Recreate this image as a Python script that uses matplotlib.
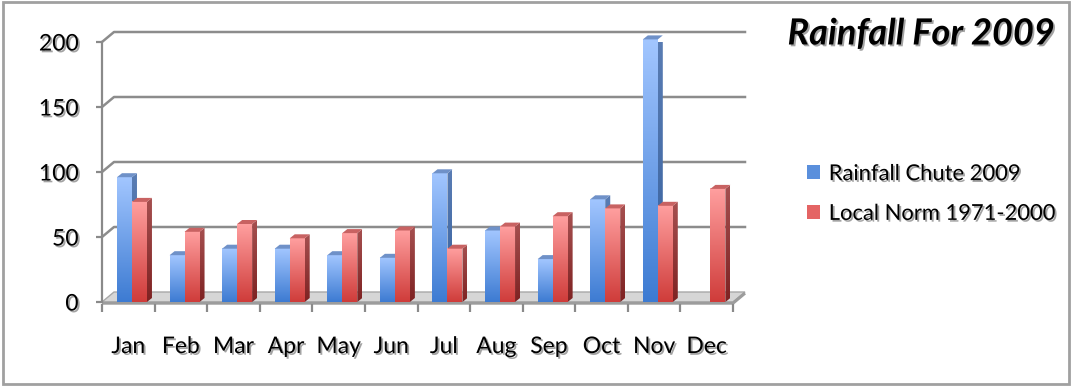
import matplotlib
matplotlib.use("Agg")
import matplotlib.pyplot as plt
import matplotlib.patheffects as pe
from matplotlib.colors import LinearSegmentedColormap
from matplotlib.patches import Polygon, Patch, Rectangle
import numpy as np

# Monthly rainfall (mm)
months = ["Jan", "Feb", "Mar", "Apr", "May", "Jun",
          "Jul", "Aug", "Sep", "Oct", "Nov", "Dec"]
rain_2009 = [96, 36, 41, 41, 36, 34, 99, 55, 33, 79, 202, np.nan]
norm_1971_2000 = [77, 54, 60, 49, 53, 55, 41, 58, 66, 72, 74, 87]
y_ticks = [0, 50, 100, 150, 200]

title = "Rainfall For 2009"
labels = ["Rainfall Chute 2009", "Local Norm 1971-2000"]

plt.rcParams['font.family'] = ['Lato', 'DejaVu Sans']

W, H = 1073, 387
fig = plt.figure(figsize=(W / 100, H / 100), dpi=100)

# front plane of the chart, in pixels
x0_px, x1_px, y0_px, y1_px = 102, 733, 302, 42
ax = fig.add_axes([x0_px / W, 1 - y0_px / H, (x1_px - x0_px) / W, (y0_px - y1_px) / H])
ax.set_xlim(0, 12)
ax.set_ylim(0, 200)
ax.patch.set_alpha(0)

px_x = 12 / (x1_px - x0_px)      # data units per pixel
px_y = 200 / (y0_px - y1_px)

# depth of the back wall and of the bars
wall_dx, wall_dy = 12 * px_x, 10 * px_y
bar_dx, bar_dy = 5 * px_x, 4 * px_y
bar_w = 0.285
bar_off = 0.285

shadow = [pe.SimplePatchShadow(offset=(1.3, -1.3), shadow_rgbFace='0.4', alpha=0.6), pe.Normal()]

# floor
floor = Polygon([(0, 0), (12, 0), (12 + wall_dx, wall_dy), (wall_dx, wall_dy)],
                closed=True, facecolor='#d6d6d6', edgecolor='#a8a8a8', lw=1, zorder=1, clip_on=False)
ax.add_patch(floor)
ax.plot([0, 12, 12 + wall_dx], [-0.9, -0.9, wall_dy - 0.9], color='#9c9c9c', lw=2.2,
        zorder=1, clip_on=False, solid_capstyle='butt')

# back wall gridlines and the diagonals from the front axis
for v in y_ticks[1:]:
    ax.plot([0, wall_dx, 12 + wall_dx], [v, v + wall_dy, v + wall_dy], color='#8c8c8c',
            lw=1.8, zorder=0.5, clip_on=False)

blue_cm = LinearSegmentedColormap.from_list("b", ["#3d7bd2", "#a2c6ff"])
red_cm = LinearSegmentedColormap.from_list("r", ["#cf3c3a", "#ff9f9f"])
blue_side = LinearSegmentedColormap.from_list("bs", ["#35609e", "#5a7db4"])
red_side = LinearSegmentedColormap.from_list("rs", ["#7e2222", "#a65050"])
grad = np.linspace(0, 1, 128).reshape(-1, 1)


def draw_bar(x, v, face_cm, side_cm, top_col, z):
    if np.isnan(v):
        return
    im = ax.imshow(grad, extent=(x, x + bar_w, 0, v), origin='lower', aspect='auto',
                   cmap=face_cm, zorder=z, interpolation='bilinear')
    im.set_clip_on(False)
    side = Polygon([(x + bar_w, 0), (x + bar_w + bar_dx, bar_dy), (x + bar_w + bar_dx, v + bar_dy),
                    (x + bar_w, v)], closed=True, facecolor='none', edgecolor='none', zorder=z)
    ax.add_patch(side)
    ims = ax.imshow(grad, extent=(x + bar_w, x + bar_w + bar_dx, 0, v + bar_dy), origin='lower',
                    aspect='auto', cmap=side_cm, zorder=z, interpolation='bilinear')
    ims.set_clip_path(side)
    top = Polygon([(x, v), (x + bar_w, v), (x + bar_w + bar_dx, v + bar_dy), (x + bar_dx, v + bar_dy)],
                  closed=True, facecolor=top_col, edgecolor='none', zorder=z, clip_on=False)
    ax.add_patch(top)


z = 2
for i in range(len(months)):
    draw_bar(i + bar_off, rain_2009[i], blue_cm, blue_side, '#6f91c8', z)
    z += 0.01
    draw_bar(i + bar_off + bar_w, norm_1971_2000[i], red_cm, red_side, '#c86262', z)
    z += 0.01

ax.set_xlim(0, 12)
ax.set_ylim(0, 200)

# axes, ticks and labels
for s in ['top', 'right', 'bottom']:
    ax.spines[s].set_visible(False)
ax.spines['left'].set_color('#8a8a8a')
ax.spines['left'].set_linewidth(1.6)
ax.spines['left'].set_zorder(1.5)
ax.spines['bottom'].set_position(('outward', 1.5))

ax.set_yticks(y_ticks)
ax.set_yticklabels([str(v) for v in y_ticks])
ax.tick_params(axis='y', length=4, width=1.6, color='#8a8a8a', pad=13, labelsize=16.5)
for t in ax.get_yticklabels():
    t.set_path_effects(shadow)

ax.set_xticks(np.arange(13))
ax.set_xticklabels([])
ax.tick_params(axis='x', which='major', length=6, width=1.6, color='#8a8a8a', direction='out')
ax.set_xticks(np.arange(12) + 0.5, minor=True)
ax.set_xticklabels(months, minor=True)
ax.tick_params(axis='x', which='minor', length=0, pad=23, labelsize=16.5)
for t in ax.get_xticklabels(minor=True):
    t.set_path_effects(shadow)

fig.text(1055 / W, 1 - 34 / H, title, ha='right', va='center', fontsize=26,
         fontweight='bold', fontstyle='italic', path_effects=shadow)

handles = [Patch(facecolor='#5a8fdc', edgecolor='none'), Patch(facecolor='#e46464', edgecolor='none')]
leg = fig.legend(handles, labels, loc='center left', bbox_to_anchor=(798 / W, 1 - 194 / H),
                 frameon=False, fontsize=15.8, handlelength=0.6, handleheight=0.6,
                 handletextpad=0.4, labelspacing=0.9, borderaxespad=0)
for t in leg.get_texts():
    t.set_path_effects(shadow)

# outer border
fig.patches.append(Rectangle((3 / W, 3 / H), 1066 / W, 382 / H, transform=fig.transFigure,
                             facecolor='none', edgecolor='#a0a0a0', lw=2))

fig.savefig("out.png", dpi=100)
